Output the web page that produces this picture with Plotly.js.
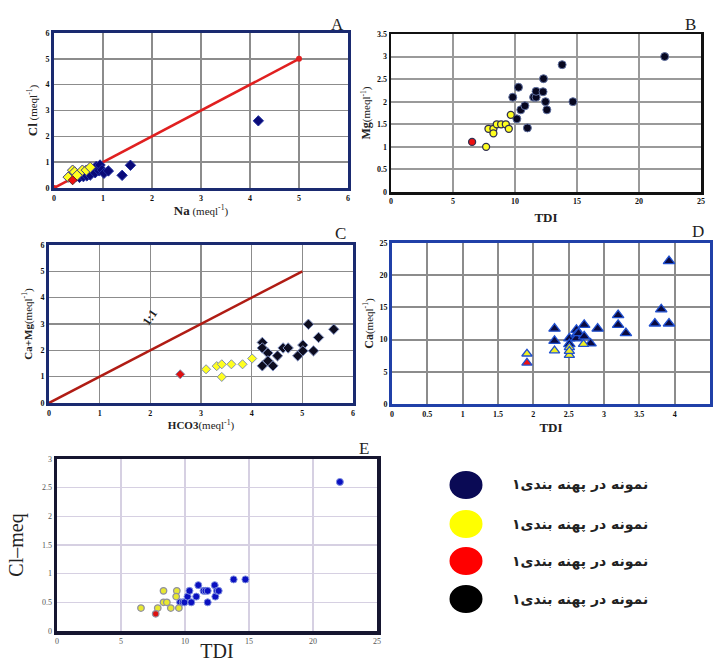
<!DOCTYPE html>
<html><head><meta charset="utf-8">
<script src="https://cdn.plot.ly/plotly-3.0.1.min.js"></script>
<style>body{margin:0;background:#fff}#chart{width:713px;height:662px}</style>
</head><body><div id="chart"></div>
<script>
// ---- Panel A: Na vs Cl ----
const naBlue   = [0.33,0.46,0.52,0.60,0.64,0.67,0.74,0.84,0.86,0.90,0.92,0.94,0.98,1.02,1.11,1.39,1.56,4.17];
const clABlue  = [0.44,0.47,0.41,0.44,0.57,0.47,0.50,0.59,0.83,0.76,0.67,0.89,0.70,0.57,0.66,0.49,0.88,2.60];
const naYellow = [0.29,0.38,0.42,0.47,0.58,0.66,0.74];
const clAYellow= [0.42,0.69,0.62,0.49,0.69,0.69,0.80];
const naRed = [0.38], clARed = [0.30];
const lineA_x = [0,5], lineA_y = [0,5];

// ---- Panel B: TDI vs Mg ----
const tdiBBlack = [9.82,10.15,10.28,10.47,10.8,11.0,11.5,11.7,11.7,12.26,12.3,12.46,12.57,13.8,14.67,22.07];
const mgBBlack  = [2.1,1.62,2.32,1.82,1.91,1.42,2.1,2.1,2.23,2.22,2.51,2.0,1.82,2.82,2.0,3.0];
const tdiBYellow = [7.67,7.86,8.26,8.26,8.53,8.88,9.26,9.5,9.66];
const mgBYellow  = [1.0,1.4,1.4,1.3,1.5,1.5,1.5,1.4,1.71];
const tdiBRed = [6.54], mgBRed = [1.11];

// ---- Panel C: HCO3 vs Ca+Mg ----
const hco3Black = [4.21,4.21,4.21,4.32,4.32,4.42,4.51,4.62,4.72,4.91,5.01,5.01,5.12,5.22,5.32,5.62];
const camgBlack = [2.3,2.09,1.41,1.9,1.6,1.41,1.79,2.09,2.09,1.79,2.2,1.98,2.99,1.98,2.49,2.8];
const hco3Yellow = [3.1,3.31,3.41,3.41,3.6,3.82,4.01];
const camgYellow = [1.28,1.4,1.47,0.99,1.47,1.47,1.69];
const hco3Red = [2.59], camgRed = [1.09];
const lineC_x = [0,5], lineC_y = [0,5];

// ---- Panel D: TDI vs Ca ----
const tdiDNavy = [2.3,2.3,2.51,2.51,2.61,2.61,2.61,2.64,2.72,2.72,2.81,2.91,3.2,3.2,3.31,3.72,3.81,3.92,3.92];
const caDNavy  = [11.7,9.8,10.2,9.3,11.5,10.8,10.2,11.0,12.3,10.5,9.4,11.7,13.8,12.3,11.0,12.5,14.7,12.5,22.2];
const tdiDYellow = [1.91,2.3,2.51,2.51,2.51,2.71];
const caDYellow  = [7.8,8.3,8.8,7.6,8.2,9.3];
const tdiDRed = [1.91], caDRed = [6.4];

// ---- Panel E: TDI vs Cl ----
const tdiEBlue = [9.62,9.83,9.96,10.2,10.35,10.49,10.88,11.04,11.45,11.6,11.77,11.77,12.32,12.37,12.5,12.63,13.8,14.72,22.1];
const clEBlue  = [0.5,0.5,0.5,0.6,0.7,0.5,0.6,0.8,0.7,0.7,0.7,0.5,0.8,0.6,0.7,0.7,0.9,0.9,2.6];
const tdiEYellow = [6.56,7.87,8.32,8.32,8.58,8.89,9.36,9.31,9.52];
const clEYellow  = [0.4,0.4,0.7,0.5,0.5,0.4,0.7,0.6,0.4];
const tdiERed = [7.71], clERed = [0.3];

// ---- Legend ----
const legendLabels = ["نمونه در پهنه بندی۱","نمونه در پهنه بندی۱","نمونه در پهنه بندی۱","نمونه در پهنه بندی۱"];
const legendColors = ["#0a0a55","#ffff00","#ff0000","#000000"];

const W = 713, H = 662;
const px = (a,b)=>[a/W, b/W];
const py = (top,bot)=>[1-bot/H, 1-top/H];
const serif = "Liberation Serif, Times New Roman, serif";

function sc(x,y,xa,ya,sym,size,fill,lc,lw){
  return {type:"scatter",mode:"markers",x:x,y:y,xaxis:xa,yaxis:ya,showlegend:false,
    marker:{symbol:sym,size:size,color:fill,line:{color:lc,width:lw}}};
}
const traces = [
  {type:"scatter",mode:"lines+markers",x:lineA_x,y:lineA_y,xaxis:"x",yaxis:"y",showlegend:false,
    line:{color:"#e02020",width:2.5},marker:{color:"#e02020",size:6}},
  sc(naBlue,clABlue,"x","y","diamond",8,"#0a0a78","#2030a0",1),
  sc(naYellow,clAYellow,"x","y","diamond",8,"#ffff20","#404080",1),
  sc(naRed,clARed,"x","y","diamond",7,"#ee1010","#602020",1),

  sc(tdiBBlack,mgBBlack,"x2","y2","circle",8,"#070720","#6070a0",1),
  sc(tdiBYellow,mgBYellow,"x2","y2","circle",7,"#ffff20","#303050",1.3),
  sc(tdiBRed,mgBRed,"x2","y2","circle",7,"#ee1010","#303050",1.3),

  {type:"scatter",mode:"lines",x:lineC_x,y:lineC_y,xaxis:"x3",yaxis:"y3",showlegend:false,
    line:{color:"#b01c14",width:2.5}},
  sc(hco3Black,camgBlack,"x3","y3","diamond",8,"#0d0d20","#8090c0",1),
  sc(hco3Yellow,camgYellow,"x3","y3","diamond",7,"#ffff20","#8090b0",1),
  sc(hco3Red,camgRed,"x3","y3","diamond",7,"#dd1010","#8090b0",1),

  sc(tdiDNavy,caDNavy,"x4","y4","triangle-up",10,"#0a0a40","#2050d0",1.3),
  sc(tdiDYellow,caDYellow,"x4","y4","triangle-up",9,"#f0f020","#2050d0",1.3),
  sc(tdiDRed,caDRed,"x4","y4","triangle-up",9,"#ee1010","#2050d0",1.3),

  sc(tdiEBlue,clEBlue,"x5","y5","circle",7,"#0a10c0","#8090e0",1),
  sc(tdiEYellow,clEYellow,"x5","y5","circle",6.5,"#e8e830","#9090a0",1.3),
  sc(tdiERed,clERed,"x5","y5","circle",6.5,"#dd1010","#9090a0",1.3)
];

function ax(domain,range,dtick,gridc,gridw,linec,linew,anchor,title,tfont,standoff,tickfont){
  return {domain:domain,range:range,dtick:dtick,tick0:0,showgrid:true,gridcolor:gridc,gridwidth:gridw,
    zeroline:false,showline:true,mirror:true,linecolor:linec,linewidth:linew,anchor:anchor,
    ticks:"",fixedrange:true,
    tickfont:tickfont||{family:serif,size:8,color:"#111",weight:"bold"},
    title:{text:title,font:tfont,standoff:standoff}};
}
const tf = {family:serif,size:11,color:"#222"};
const tfB = {family:serif,size:13,color:"#222"};

const layout = {
  width:W,height:H,margin:{l:0,r:0,t:0,b:0},paper_bgcolor:"#ffffff",plot_bgcolor:"#ffffff",
  showlegend:false,
  xaxis: ax(px(54,348),[0,6],1,"#8c8c8c",1.5,"#1a2a70",3,"y","<b style='font-size:13px'>Na</b> (meql<sup>-1</sup>)",tf,4),
  yaxis: ax(py(33,188),[0,6],1,"#8c8c8c",1.5,"#1a2a70",3,"x","<b style='font-size:13px'>Cl</b> (meql<sup>-1</sup>)",tf,6),
  xaxis2: ax(px(391,701),[0,25],5,"#9a9a9a",2,"#111",2.5,"y2","<b>TDI</b>",tfB,8),
  yaxis2: ax(py(34,192),[0,3.5],0.5,"#9a9a9a",2,"#111",2.5,"x2","<b style='font-size:12px'>Mg</b>(meql<sup>-1</sup>)",tf,4),
  xaxis3: ax(px(49,353),[0,6],1,"#8c8c8c",1.5,"#1a2a70",3,"y3","<b>HCO3</b>(meql<sup>-1</sup>)",tf,4),
  yaxis3: ax(py(245,403),[0,6],1,"#8c8c8c",1.5,"#1a2a70",3,"x3","<b>Ca+Mg</b>(meql<sup>-1</sup>)",tf,6),
  xaxis4: ax(px(392,710),[0,4.5],0.5,"#8c8c8c",2,"#2040a8",3,"y4","<b>TDI</b>",tfB,6),
  yaxis4: ax(py(243,404),[0,25],5,"#8c8c8c",2,"#2040a8",3,"x4","<b style='font-size:12px'>Ca</b>(meql<sup>-1</sup>)",tf,4),
  xaxis5: ax(px(57,377),[0,25],5,"#d6d0e2",1.5,"#161630",3.5,"y5","TDI",{family:serif,size:20,color:"#222"},9,{family:serif,size:8,color:"#555"}),
  yaxis5: ax(py(459,631),[0,3],0.5,"#d6d0e2",1.5,"#161630",3.5,"x5","Cl–meq",{family:serif,size:20,color:"#222"},14,{family:serif,size:8,color:"#555"}),
  shapes:[],
  annotations:[]
};

// panel letters
[["A",337,24],["B",690,24],["C",340,233],["D",698,232],["E",364,448]].forEach(l=>{
  layout.annotations.push({xref:"paper",yref:"paper",x:l[1]/W,y:1-l[2]/H,text:l[0],showarrow:false,
    xanchor:"center",yanchor:"middle",font:{family:serif,size:17,color:"#222"}});
});
// 1:1 label in panel C
layout.annotations.push({xref:"x3",yref:"y3",x:2.0,y:3.25,text:"<b>1:1</b>",showarrow:false,textangle:-55,
  font:{family:serif,size:12,color:"#222"}});

// legend
const legY = [485,524,561,599];
legendLabels.forEach((t,i)=>{
  layout.shapes.push({type:"circle",xref:"paper",yref:"paper",
    x0:(466-16.5)/W,x1:(466+16.5)/W,y0:1-(legY[i]+14)/H,y1:1-(legY[i]-14)/H,
    fillcolor:legendColors[i],line:{width:0}});
  layout.annotations.push({xref:"paper",yref:"paper",x:580/W,y:1-legY[i]/H,text:"<b>"+t+"</b>",showarrow:false,
    xanchor:"center",yanchor:"middle",font:{family:"DejaVu Sans, sans-serif",size:14,color:"#222"}});
});

Plotly.newPlot("chart",traces,layout,{staticPlot:true,displayModeBar:false});
</script></body></html>
